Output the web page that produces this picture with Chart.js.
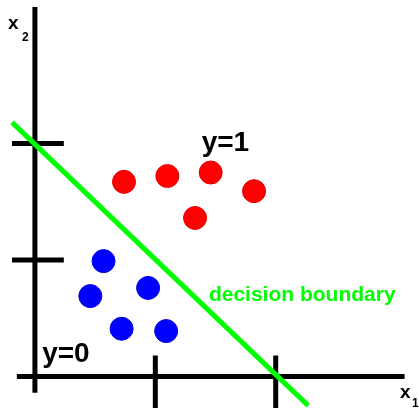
<!DOCTYPE html>
<html>
<head>
<meta charset="utf-8">
<script src="https://cdn.jsdelivr.net/npm/chart.js@4"></script>
<style>
  html, body { margin: 0; padding: 0; background: #fff; }
  canvas { display: block; }
</style>
</head>
<body>
<canvas id="plot" width="419" height="408"></canvas>
<script>
// Classe y=1 (vermelho) e y=0 (azul)
const redX = [0.74, 1.10, 1.46, 1.82, 1.33];
const redY = [1.67, 1.72, 1.75, 1.59, 1.36];
const blueX = [0.57, 0.46, 0.94, 0.72, 1.09];
const blueY = [0.99, 0.69, 0.76, 0.41, 0.39];

// Fronteira de decisão (dois pontos da reta)
const boundaryX = [-0.19, 2.27];
const boundaryY = [2.18, -0.25];

// Marcas dos eixos
const xTicks = [1, 2];
const yTicks = [1, 2];

const xRange = [-0.29, 3.19];
const yRange = [-0.27, 3.23];

const toPoints = (xs, ys) => xs.map((x, i) => ({ x: x, y: ys[i] }));

const segment = (pts, color, order) => ({
  type: "scatter",
  data: pts,
  showLine: true,
  borderColor: color,
  borderWidth: 5,
  borderCapStyle: "butt",
  pointRadius: 0,
  order: order,
});

const datasets = [
  segment([{ x: xRange[0] + 0.14, y: 0 }, { x: 3.07, y: 0 }], "#000", 5),
  segment([{ x: 0, y: -0.14 }, { x: 0, y: 3.17 }], "#000", 5),
  ...xTicks.map((t) => segment([{ x: t, y: 0.18 }, { x: t, y: yRange[0] }], "#000", 5)),
  ...yTicks.map((t) => segment([{ x: -0.19, y: t }, { x: 0.24, y: t }], "#000", 5)),
  segment(toPoints(boundaryX, boundaryY), "#00ff00", 3),
  {
    label: "y=1",
    data: toPoints(redX, redY),
    backgroundColor: "#ff0000",
    borderColor: "#e00000",
    borderWidth: 1,
    pointRadius: 11.5,
    order: 1,
  },
  {
    label: "y=0",
    data: toPoints(blueX, blueY),
    backgroundColor: "#0000ff",
    borderColor: "#0000e0",
    borderWidth: 1,
    pointRadius: 11.5,
    order: 1,
  },
];

// Textos posicionados nas coordenadas do gráfico
const labelsPlugin = {
  id: "labels",
  afterDraw(chart) {
    const { ctx, scales } = chart;
    const px = (v) => scales.x.getPixelForValue(v);
    const py = (v) => scales.y.getPixelForValue(v);
    ctx.save();
    ctx.textBaseline = "alphabetic";
    ctx.textAlign = "left";
    ctx.fillStyle = "#000";
    ctx.font = "bold 28px 'Liberation Sans'";
    ctx.fillText("y=1", px(1.385), py(1.935));
    ctx.fillText("y=0", px(0.06), py(0.125));
    ctx.fillStyle = "#00ff00";
    ctx.font = "bold 21px 'Liberation Sans'";
    ctx.fillText("decision boundary", px(1.445), py(0.645));
    // nomes dos eixos
    ctx.fillStyle = "#000";
    ctx.font = "bold 19px 'Liberation Sans'";
    ctx.fillText("x", 8, 29);
    ctx.fillText("x", 400, 398);
    ctx.font = "bold 12px 'Liberation Sans'";
    ctx.fillText("2", 22, 41);
    ctx.fillText("1", 412, 407);
    ctx.restore();
  },
};

new Chart(document.getElementById("plot"), {
  type: "scatter",
  data: { datasets: datasets },
  options: {
    responsive: false,
    animation: false,
    layout: { padding: 0, autoPadding: false },
    plugins: { legend: { display: false }, tooltip: { enabled: false } },
    scales: {
      x: { type: "linear", display: false, min: xRange[0], max: xRange[1] },
      y: { type: "linear", display: false, min: yRange[0], max: yRange[1] },
    },
  },
  plugins: [labelsPlugin],
});
</script>
</body>
</html>
